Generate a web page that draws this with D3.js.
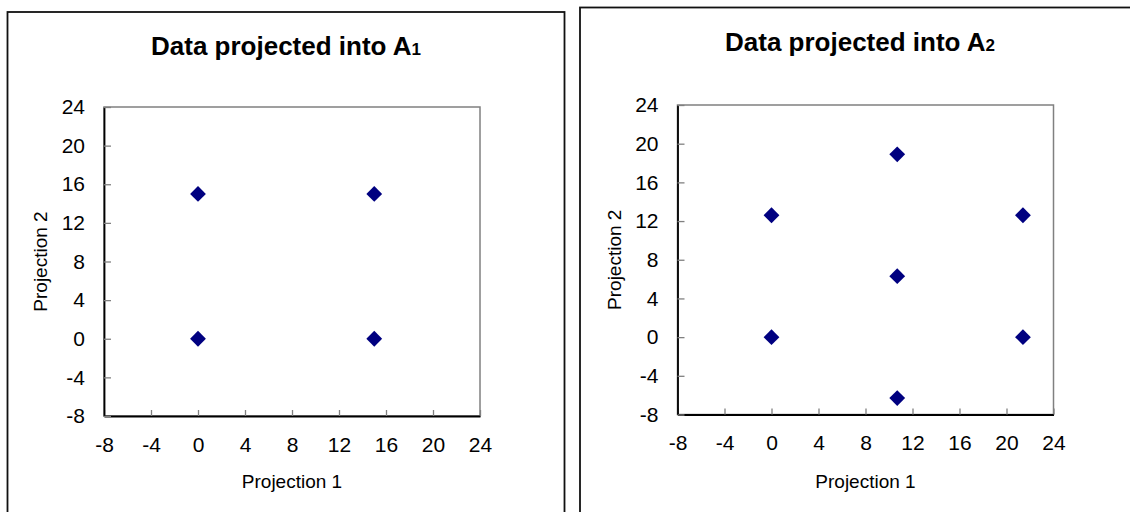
<html>
<head>
    <meta charset="utf-8">
    <title>Data projected into A1 and A2</title>
    <script src="https://d3js.org/d3.v7.min.js"></script>
    <style>
        body { margin: 0; background: #fff; font-family: "Liberation Sans", Arial, sans-serif; }
        svg { display: block; }
    </style>
</head>
<body>
    <svg id="charts" width="1130" height="512"></svg>

    <script>
    // values
    var tickValues = [-8, -4, 0, 4, 8, 12, 16, 20, 24];
    var a1X = [0, 0, 15, 15];
    var a1Y = [0, 15, 0, 15];
    var a2X = [0, 0, 10.7, 10.7, 10.7, 21.4, 21.4];
    var a2Y = [0, 12.6, 18.9, 6.3, -6.3, 12.6, 0];

    var svg = d3.select("#charts");

    var charts = [
        {sub: "1", xs: a1X, ys: a1Y,
         box: [7.5, 12, 557, 520], plot: [104, 107, 480, 416], titleY: 55},
        {sub: "2", xs: a2X, ys: a2Y,
         box: [580, 7.5, 560, 520], plot: [677.5, 105, 1053.5, 414.5], titleY: 51}
    ];

    var fmt = function (d) { return String(d); };

    charts.forEach(function (c) {
        var g = svg.append("g");
        var left = c.plot[0], top = c.plot[1], right = c.plot[2], bottom = c.plot[3];

        g.append("rect")
            .attr("x", c.box[0]).attr("y", c.box[1])
            .attr("width", c.box[2]).attr("height", c.box[3])
            .attr("fill", "none").attr("stroke", "#111").attr("stroke-width", 1.8);

        var title = g.append("text")
            .attr("x", c.box[0] + c.box[2] / 2)
            .attr("y", c.titleY)
            .attr("text-anchor", "middle")
            .attr("font-size", "26px")
            .attr("font-weight", "bold")
            .text("Data projected into A");
        title.append("tspan").attr("font-size", "17px").text(c.sub);

        var x = d3.scaleLinear().domain([-8, 24]).range([left, right]);
        var y = d3.scaleLinear().domain([-8, 24]).range([bottom, top]);

        g.append("rect")
            .attr("x", left).attr("y", top)
            .attr("width", right - left).attr("height", bottom - top)
            .attr("fill", "#fff").attr("stroke", "#808080").attr("stroke-width", 1.5);

        var xAxis = g.append("g")
            .attr("transform", "translate(0," + bottom + ")")
            .call(d3.axisBottom(x).tickValues(tickValues).tickFormat(fmt)
                .tickSizeInner(-6).tickSizeOuter(0).tickPadding(21));
        var yAxis = g.append("g")
            .attr("transform", "translate(" + left + ",0)")
            .call(d3.axisLeft(y).tickValues(tickValues).tickFormat(fmt)
                .tickSizeInner(-7).tickSizeOuter(0).tickPadding(19));

        [xAxis, yAxis].forEach(function (a) {
            a.attr("font-size", 21).attr("font-family", "Liberation Sans, Arial, sans-serif");
            a.select(".domain").attr("stroke", "#000").attr("stroke-width", 1.8);
            a.selectAll(".tick line").attr("stroke", "#808080").attr("stroke-width", 1.3);
            a.selectAll(".tick text").style("font-size", "21px").attr("fill", "#000");
        });

        g.append("text")
            .attr("x", (left + right) / 2)
            .attr("y", 488)
            .attr("text-anchor", "middle")
            .attr("font-size", "19px")
            .text("Projection 1");

        g.append("text")
            .attr("transform", "translate(" + (left - 57) + "," + ((top + bottom) / 2) + ") rotate(-90)")
            .attr("text-anchor", "middle")
            .attr("font-size", "19px")
            .text("Projection 2");

        var symbol = d3.symbol().type(d3.symbolSquare).size(125);
        g.selectAll("path.point")
            .data(d3.range(c.xs.length))
            .enter()
            .append("path")
            .attr("class", "point")
            .attr("d", symbol)
            .attr("fill", "#000080")
            .attr("transform", function (i) {
                return "translate(" + x(c.xs[i]) + "," + y(c.ys[i]) + ") rotate(45)";
            });
    });
    </script>
</body>
</html>
